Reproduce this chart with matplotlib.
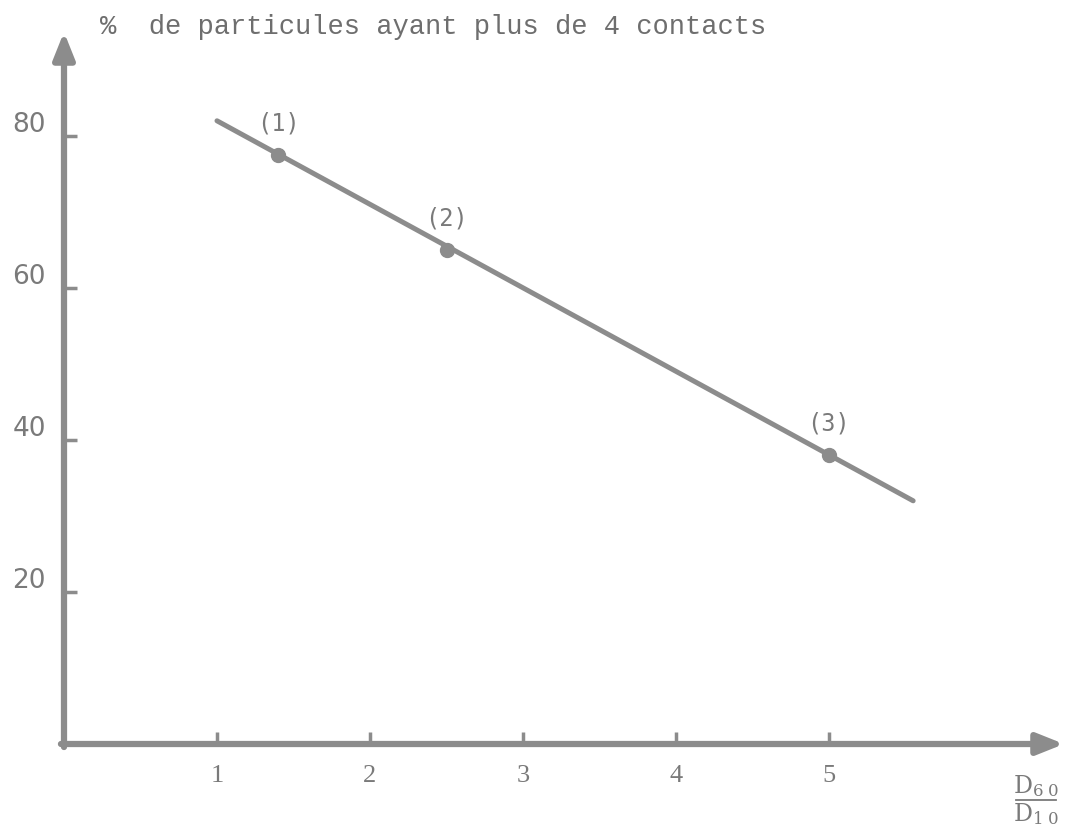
import matplotlib.pyplot as plt
import matplotlib.transforms as mtransforms
from matplotlib.lines import Line2D

# coefficient d'uniformite D60/D10 et % de particules ayant plus de 4 contacts
ratio = [1.4, 2.5, 5.0]
pct = [77.5, 65.0, 38.0]
point_labels = ["(1)", "(2)", "(3)"]

# droite tracee a travers les points
fit_x = [1.0, 5.55]
fit_y = [82.0, 32.0]

x_ticks = [1, 2, 3, 4, 5]
y_ticks = [20, 40, 60, 80]

gris = "#8c8c8c"
gris_txt = "#7a7a7a"

fig = plt.figure(figsize=(10.66, 8.26), dpi=100)
ax = fig.add_axes([64 / 1066, 82 / 826, 1000 / 1066, 712 / 826])
xmax = 1000 / 153
ymax = 712 / 7.6
ax.set_xlim(0, xmax)
ax.set_ylim(0, ymax)

for s in ax.spines.values():
    s.set_visible(False)

# axes avec fleches
arrow = dict(arrowstyle="-|>,head_length=0.8,head_width=0.32", color=gris,
             lw=4.5, shrinkA=0, shrinkB=0, mutation_scale=20)
ax.annotate("", xy=(xmax, 0), xytext=(-0.02, 0), arrowprops=arrow,
            annotation_clip=False)
ax.annotate("", xy=(0, ymax), xytext=(0, -0.4), arrowprops=arrow,
            annotation_clip=False)

ax.plot(fit_x, fit_y, color=gris, lw=3.6, solid_capstyle="round")
ax.plot(ratio, pct, "o", color=gris, ms=10)
for x, y, t in zip(ratio, pct, point_labels):
    ax.annotate(t, (x, y), xytext=(0, 14), textcoords="offset points",
                ha="center", va="bottom", fontsize=17, color=gris_txt,
                family="DejaVu Sans Mono")

ax.set_xticks(x_ticks)
ax.set_xticklabels([str(v) for v in x_ticks], family="Liberation Serif",
                   fontsize=19, color=gris_txt)
ax.set_yticks(y_ticks)
ax.set_yticklabels([str(v) for v in y_ticks], family="DejaVu Sans",
                   fontsize=19, color=gris_txt)
ax.tick_params(axis="both", direction="in", length=9, width=2.5, colors=gris)
ax.tick_params(axis="x", pad=15, labelcolor=gris_txt)
ax.tick_params(axis="y", pad=13, labelcolor=gris_txt)

# les etiquettes de l'axe y sont un peu au-dessus des graduations
decal = mtransforms.ScaledTranslation(0, 10 / 72, fig.dpi_scale_trans)
for lab in ax.get_yticklabels():
    lab.set_transform(lab.get_transform() + decal)

fig.text(100 / 1066, 1 - 27 / 826, "%  de particules ayant plus de 4 contacts",
         family="Liberation Mono", fontsize=19.5, color="#6e6e6e",
         ha="left", va="center")

# titre de l'axe x : D60 / D10
fig.text(1036 / 1066, 1 - 786 / 826, r"$\mathrm{D}_{6\ 0}$", fontsize=17,
         color=gris_txt, ha="center", va="center", math_fontfamily="dejavuserif")
fig.text(1036 / 1066, 1 - 814 / 826, r"$\mathrm{D}_{1\ 0}$", fontsize=17,
         color=gris_txt, ha="center", va="center", math_fontfamily="dejavuserif")
fig.add_artist(Line2D([1016 / 1066, 1056 / 1066], [1 - 800 / 826, 1 - 800 / 826],
                      color=gris_txt, lw=1.3))

fig.savefig("out.png", dpi=100)
